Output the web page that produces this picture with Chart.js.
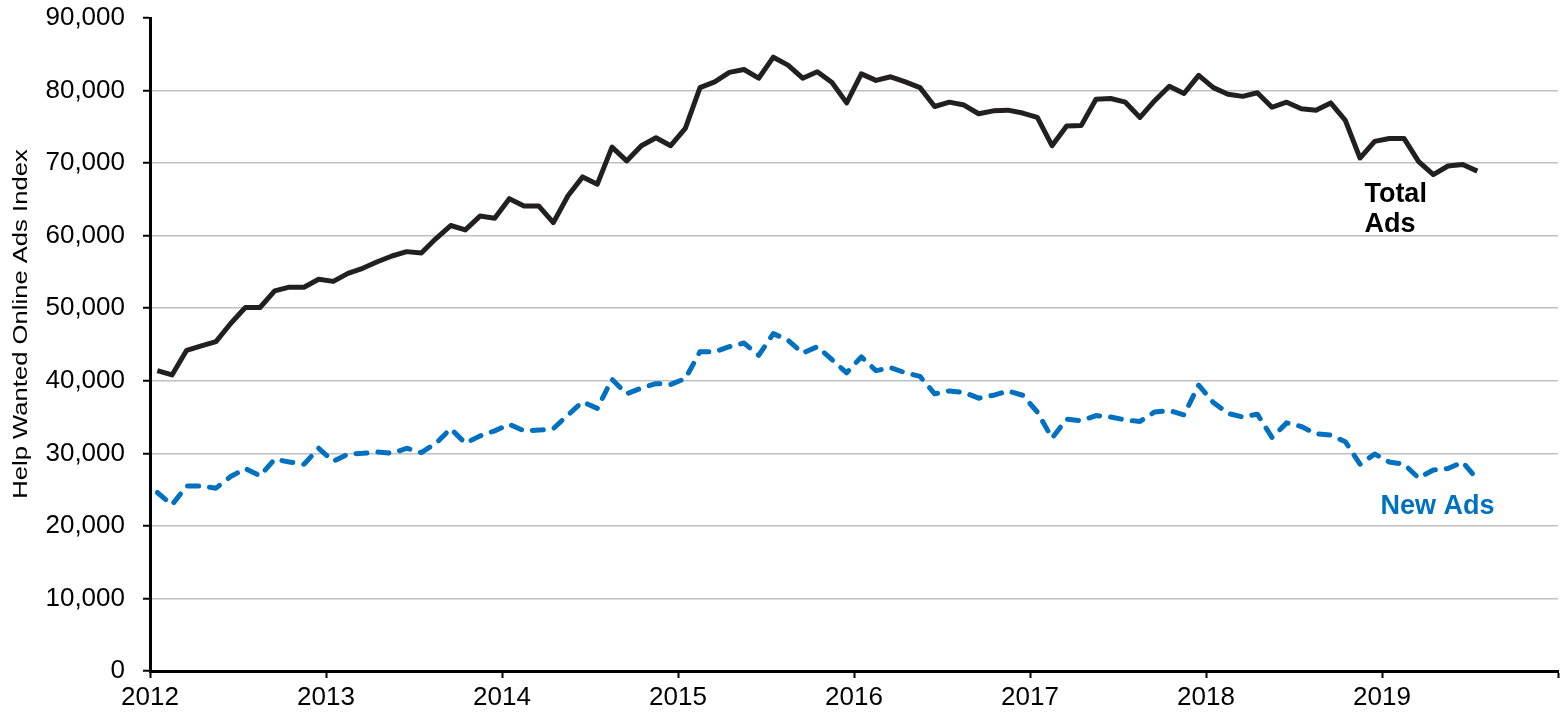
<!DOCTYPE html>
<html>
<head>
<meta charset="utf-8">
<title>Help Wanted Online Ads Index</title>
<script src="https://cdn.jsdelivr.net/npm/chart.js@4.4.1/dist/chart.umd.min.js"></script>
<style>
  body { margin: 0; background: #fff; }
  #myChart { display: block; }
</style>
</head>
<body>
<canvas id="myChart" width="1562" height="720"></canvas>
<script>

// ---- data (monthly, Jan 2012 - Jul 2019) ----
var yearLabels = ['2012', '2013', '2014', '2015', '2016', '2017', '2018', '2019'];

var totalAds = [
    41400, 40800, 44200, 44800, 45400, 47900, 50100, 50100, 52400, 52900, 52900, 54000,
    53700, 54800, 55500, 56400, 57200, 57800, 57600, 59600, 61400, 60800, 62700, 62400,
    65100, 64100, 64100, 61800, 65500, 68100, 67100, 72200, 70300, 72400, 73500, 72400,
    74800, 80400, 81200, 82500, 82900, 81700, 84600, 83500, 81700, 82600, 81100, 78300,
    82300, 81400, 81900, 81200, 80400, 77800, 78400, 78000, 76800, 77200, 77300, 76900,
    76300, 72400, 75100, 75200, 78800, 78900, 78400, 76300, 78600, 80600, 79600, 82100,
    80400, 79500, 79200, 79700, 77700, 78400, 77500, 77300, 78300, 75900, 70700, 73000,
    73400, 73400, 70200, 68400, 69600, 69800, 68900
];

var newAds = [
    24600, 22900, 25500, 25500, 25200, 26800, 27900, 26900, 29200, 28800, 28500, 30700,
    28900, 29900, 30000, 30200, 30000, 30700, 30100, 31400, 33400, 31400, 32400, 33100,
    34000, 33100, 33200, 33400, 35300, 37100, 36200, 40200, 38200, 39000, 39600, 39500,
    40300, 44000, 44000, 44700, 45200, 43500, 46500, 45600, 43800, 44700, 42900, 41100,
    43300, 41400, 41800, 41100, 40600, 38200, 38600, 38400, 37600, 38000, 38600, 38000,
    35700, 32100, 34700, 34500, 35200, 35000, 34600, 34400, 35700, 35900, 35300, 39400,
    37000, 35500, 35000, 35400, 32200, 34200, 33700, 32700, 32500, 31600, 28500, 29900,
    28800, 28500, 26600, 27700, 27900, 28800, 26400
];

var seriesNames = ['Total Ads', 'New Ads'];
var yTitle = 'Help Wanted Online Ads Index';

// points sit in the middle of their month
function toPoints(values) {
    var pts = [];
    for (var i = 0; i < values.length; i++) {
        pts.push({ x: i + 0.5, y: values[i] });
    }
    return pts;
}

var FONT = "'Liberation Sans', Arial, sans-serif";

// ---- labels next to the lines + rotated y title ----
var textPlugin = {
    id: 'textPlugin',
    afterDraw: function(chart) {
        var ctx = chart.ctx;
        var xs = chart.scales.x;
        var ys = chart.scales.y;

        ctx.save();
        ctx.textAlign = 'left';
        ctx.textBaseline = 'alphabetic';
        ctx.font = 'bold 27px ' + FONT;

        ctx.fillStyle = '#000000';
        var words = seriesNames[0].split(' ');
        var tx = xs.getPixelForValue(82.8);
        var ty = ys.getPixelForValue(64600);
        ctx.fillText(words[0], tx, ty);
        ctx.fillText(words[1], tx, ty + 30);

        ctx.fillStyle = '#0070C0';
        ctx.fillText(seriesNames[1], xs.getPixelForValue(83.9), ys.getPixelForValue(21600));
        ctx.restore();

        // y axis title, a bit stretched like the original
        ctx.save();
        ctx.translate(21, 324);
        ctx.rotate(-Math.PI / 2);
        ctx.scale(1.22, 1);
        ctx.font = '21px ' + FONT;
        ctx.fillStyle = '#000000';
        ctx.textAlign = 'center';
        ctx.textBaseline = 'middle';
        ctx.fillText(yTitle, 0, 0);
        ctx.restore();
    }
};

var ctx = document.getElementById('myChart');
var myChart = new Chart(ctx, {
    type: 'line',
    data: {
        datasets: [{
            label: seriesNames[0],
            data: toPoints(totalAds),
            borderColor: '#231F20',
            borderWidth: 5,
            borderJoinStyle: 'round',
            pointRadius: 0,
            tension: 0,
            fill: false
        }, {
            label: seriesNames[1],
            data: toPoints(newAds),
            borderColor: '#0070C0',
            borderWidth: 5,
            borderDash: [11, 11],
            borderCapStyle: 'round',
            borderJoinStyle: 'round',
            pointRadius: 0,
            tension: 0,
            fill: false
        }]
    },
    options: {
        responsive: false,
        animation: false,
        devicePixelRatio: 1,
        layout: { padding: { top: 18, right: 1, left: 0, bottom: 0 } },
        plugins: {
            legend: { display: false },
            tooltip: { enabled: false }
        },
        scales: {
            x: {
                type: 'linear',
                min: 0,
                max: 96,
                afterFit: function(s) { s.height = 49; },
                border: { color: '#000000', width: 3 },
                grid: {
                    drawOnChartArea: false,
                    drawTicks: true,
                    tickLength: 7,
                    tickColor: '#000000',
                    tickWidth: 2
                },
                ticks: {
                    stepSize: 12,
                    autoSkip: false,
                    maxRotation: 0,
                    padding: 4,
                    color: '#000000',
                    font: { family: FONT, size: 26 },
                    callback: function(v) {
                        var idx = Math.round(v / 12);
                        return yearLabels[idx] || '';
                    }
                }
            },
            y: {
                min: 0,
                max: 90000,
                afterFit: function(s) {
                    s.width = 150;
                    s.paddingTop = 0;
                    s.paddingBottom = 0;
                },
                border: { color: '#000000', width: 3 },
                grid: {
                    color: function(c) {
                        if (c.tick && (c.tick.value === 0 || c.tick.value === 90000)) return 'rgba(0,0,0,0)';
                        return '#C0C0C0';
                    },
                    lineWidth: 1.5,
                    tickLength: 7,
                    tickColor: '#000000',
                    tickWidth: 2
                },
                ticks: {
                    stepSize: 10000,
                    padding: 18,
                    color: '#000000',
                    font: { family: FONT, size: 26 },
                    callback: function(v) { return v.toLocaleString('en-US'); }
                }
            }
        }
    },
    plugins: [textPlugin]
});

</script>
</body>
</html>
